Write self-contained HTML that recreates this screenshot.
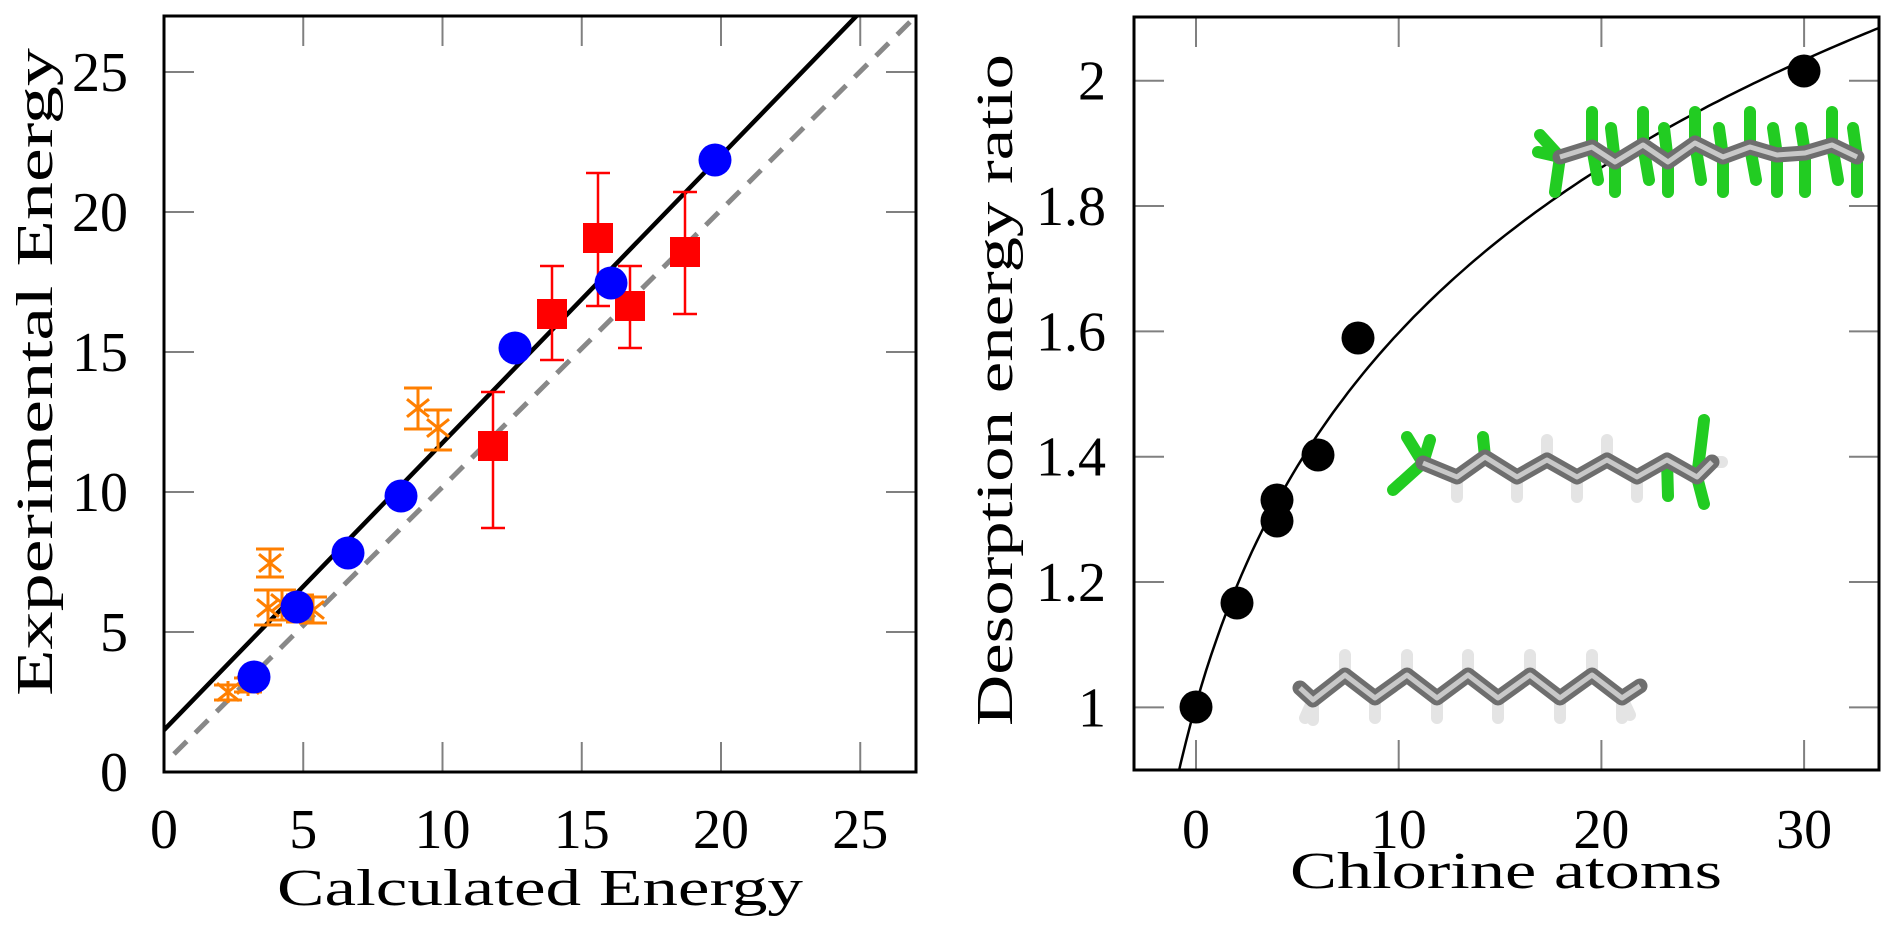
<!DOCTYPE html>
<html><head><meta charset="utf-8"><style>
html,body{margin:0;padding:0;background:#fff;}
svg{display:block;}
text{font-family:"Liberation Serif",serif;fill:#000;}
</style></head><body>
<svg id="s" width="1890" height="945" viewBox="0 0 1890 945" xmlns="http://www.w3.org/2000/svg">
<defs>
<clipPath id="cl"><rect x="164" y="16" width="752" height="756"/></clipPath>
<clipPath id="cr"><rect x="1134" y="17" width="745" height="753"/></clipPath>
</defs>
<g id="ticks" stroke="#808080" stroke-width="2"></g>
<g clip-path="url(#cl)">
<line x1="174" y1="754" x2="916" y2="16" stroke="#888" stroke-width="5" stroke-dasharray="18,12"/>
<line x1="164" y1="730" x2="870" y2="2" stroke="#000" stroke-width="4.5"/>
</g>
<g id="red" fill="#f00" stroke="#f00" stroke-width="2.5"></g>
<g id="orange" stroke="#ff7f00" stroke-width="3" fill="none"></g>
<g id="blue" fill="#0000ff"></g>
<g clip-path="url(#cr)">
<path id="curve" fill="none" stroke="#000" stroke-width="2.5"/>
</g>
<g id="mol"></g>
<g id="black" fill="#000"></g>
<rect x="164" y="16" width="752" height="756" fill="none" stroke="#000" stroke-width="3"/>
<rect x="1134" y="17" width="745" height="753" fill="none" stroke="#000" stroke-width="3"/>
<g id="labels" font-size="56"></g>
<text x="540" y="905" font-size="52" text-anchor="middle" textLength="526" lengthAdjust="spacingAndGlyphs">Calculated Energy</text>
<text transform="translate(52,372) rotate(-90)" font-size="52" text-anchor="middle" textLength="648" lengthAdjust="spacingAndGlyphs">Experimental Energy</text>
<text x="1506" y="888" font-size="52" text-anchor="middle" textLength="432" lengthAdjust="spacingAndGlyphs">Chlorine atoms</text>
<text transform="translate(1012,390) rotate(-90)" font-size="52" text-anchor="middle" textLength="672" lengthAdjust="spacingAndGlyphs">Desorption energy ratio</text>
</svg>
<script>
var NS="http://www.w3.org/2000/svg";
function el(p,t,a){var e=document.createElementNS(NS,t);for(var k in a)e.setAttribute(k,a[k]);document.getElementById(p).appendChild(e);return e;}
function txt(p,x,y,s,anc){var e=el(p,"text",{x:x,y:y,"text-anchor":anc});e.textContent=s;}
var T=30;
for(var v=0;v<=25;v+=5){
 var x=164+27.85*v, y=772-28*v;
 if(v>0){el("ticks","line",{x1:x,y1:772,x2:x,y2:772-T});el("ticks","line",{x1:x,y1:16,x2:x,y2:16+T});
 el("ticks","line",{x1:164,y1:y,x2:164+T,y2:y});el("ticks","line",{x1:916,y1:y,x2:916-T,y2:y});}
 txt("labels",x,848,""+v,"middle");
 txt("labels",128,y+19,""+v,"end");
}
for(var n=0;n<=30;n+=10){var x=1196+20.27*n;
 el("ticks","line",{x1:x,y1:770,x2:x,y2:770-T});el("ticks","line",{x1:x,y1:17,x2:x,y2:17+T});
 txt("labels",x,848,""+n,"middle");}
var yl=[[1,"1"],[1.2,"1.2"],[1.4,"1.4"],[1.6,"1.6"],[1.8,"1.8"],[2,"2"]];
yl.forEach(function(a){var y=707.4-626.7*(a[0]-1);
 el("ticks","line",{x1:1134,y1:y,x2:1134+T,y2:y});el("ticks","line",{x1:1879,y1:y,x2:1879-T,y2:y});
 txt("labels",1106,y+19,a[1],"end");});
var d="";for(var n=-1;n<=34;n+=0.25){var f=1.005+0.5*Math.log((n+4.4)/4.4);var x=1196+20.27*n,y=707.4-626.7*(f-1);d+=(d?"L":"M")+x.toFixed(1)+","+y.toFixed(1);}
document.getElementById("curve").setAttribute("d",d);
[[1196,707],[1237,603],[1277,500],[1277,521],[1318,455],[1358,338],[1804,71]].forEach(function(p){el("black","circle",{cx:p[0],cy:p[1],r:16.5});});
[[254,677],[297,607],[348,553],[401,496],[515,348],[611,283],[715,160]].forEach(function(p){el("blue","circle",{cx:p[0],cy:p[1],r:16.5});});
[[493,446,392,528],[552,314,266,360],[598,238,173,306],[630,306,266,348],[685,252,192,314]].forEach(function(p){
 el("red","line",{x1:p[0],y1:p[2],x2:p[0],y2:p[3]});
 el("red","line",{x1:p[0]-12,y1:p[2],x2:p[0]+12,y2:p[2]});
 el("red","line",{x1:p[0]-12,y1:p[3],x2:p[0]+12,y2:p[3]});
 el("red","rect",{x:p[0]-15,y:p[1]-15,width:30,height:30,stroke:"none"});});
[[228,692,685,700],[248,685,678,692],[270,563,549,577],[268,608,590,625],[282,603,590,620],[300,608,595,622],[313,610,597,623],[418,408,388,429],[438,428,410,450]].forEach(function(p){
 var x=p[0],y=p[1],r=11;
 el("orange","line",{x1:x,y1:p[2],x2:x,y2:p[3]});
 el("orange","line",{x1:x-14,y1:p[2],x2:x+14,y2:p[2]});
 el("orange","line",{x1:x-14,y1:p[3],x2:x+14,y2:p[3]});
 el("orange","line",{x1:x-r,y1:y-r*0.8,x2:x+r,y2:y+r*0.8});
 el("orange","line",{x1:x-r,y1:y+r*0.8,x2:x+r,y2:y-r*0.8});
 el("orange","line",{x1:x,y1:y-r,x2:x,y2:y+r});});
function mol(pts,stubs){
 stubs.forEach(function(s){el("mol","line",{x1:s[0],y1:s[1],x2:s[2],y2:s[3],stroke:s[4],"stroke-width":12,"stroke-linecap":"round"});});
 var d="";pts.forEach(function(p,i){d+=(i?"L":"M")+p[0]+","+p[1];});
 el("mol","path",{d:d,fill:"none",stroke:"#6e6e6e","stroke-width":15,"stroke-linejoin":"round","stroke-linecap":"round"});
 el("mol","path",{d:d,fill:"none",stroke:"#c8c8c8","stroke-width":5,"stroke-linejoin":"round"});
}
var W="#e4e4e4",G="#22cc22";
var b=[[1300,688],[1313,700],[1345,675],[1375,698],[1407,675],[1437,698],[1468,675],[1498,698],[1530,675],[1560,698],[1592,675],[1622,698],[1640,686]];
var bs=[];b.slice(1,-1).forEach(function(p){bs.push([p[0],p[1],p[0],p[1]+(p[1]>690?20:-20),W]);});
bs.push([1313,700,1305,718,W]);bs.push([1622,698,1630,715,W]);
mol(b,bs);
var m=[[1423,463],[1457,477],[1485,457],[1517,477],[1547,460],[1577,477],[1607,460],[1637,477],[1667,460],[1697,477],[1712,462]];
var ms=[[1423,463,1393,490,G],[1423,463,1407,437,G],[1423,463,1430,440,G],[1485,457,1483,437,G],
[1457,477,1457,497,W],[1517,477,1517,497,W],[1547,460,1547,440,W],[1577,477,1577,497,W],[1607,460,1607,440,W],[1637,477,1637,497,W],
[1667,460,1668,496,G],[1697,477,1704,420,G],[1697,477,1704,504,G],[1712,462,1722,462,W]];
mol(m,ms);
var t=[[1560,157],[1592,147],[1615,162],[1643,145],[1668,162],[1695,143],[1723,157],[1750,147],[1777,155],[1805,153],[1832,145],[1857,157]];
var ts=[[1560,157,1540,135,G],[1560,157,1538,152,G],[1560,157,1555,192,G]];
t.slice(1).forEach(function(p,i){
 if(p[1]<152){ts.push([p[0],p[1],p[0],112,G]);ts.push([p[0],p[1],p[0]+6,180,G]);}
 else{ts.push([p[0],p[1],p[0],192,G]);ts.push([p[0],p[1],p[0]-4,128,G]);}
});
mol(t,ts);
</script>
</body></html>
